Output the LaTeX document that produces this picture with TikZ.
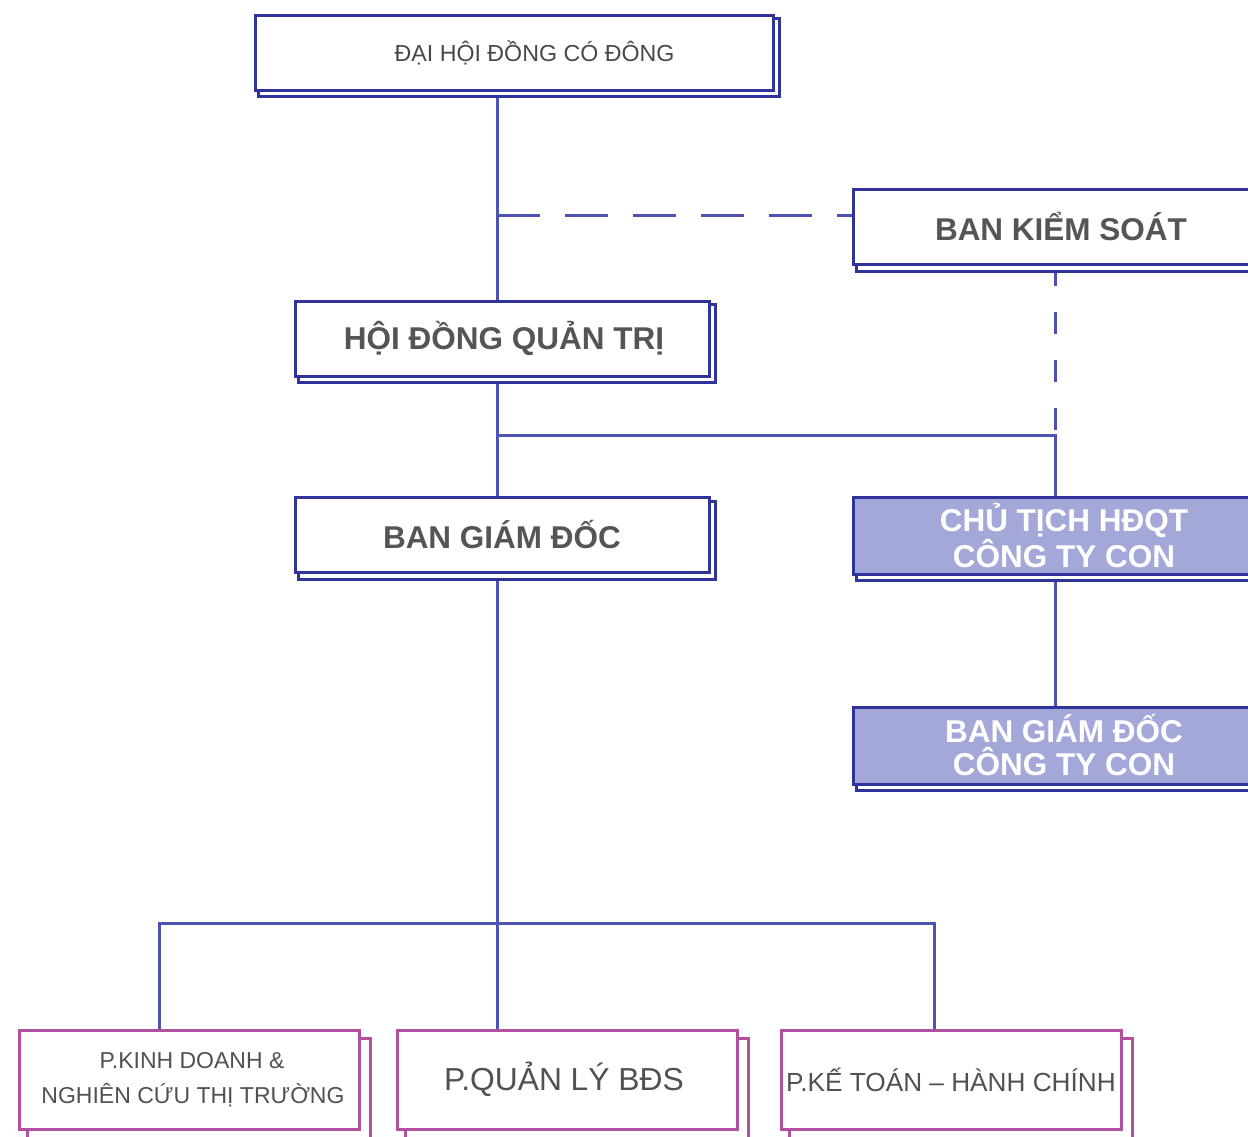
\documentclass[tikz,border=0pt]{standalone}
\usepackage{fontspec}
\setmainfont{Liberation Sans}
\pgfdeclarelayer{lines}
\pgfdeclarelayer{shadows}
\pgfsetlayers{lines,shadows,main}
\definecolor{navy}{HTML}{30349A}
\definecolor{linecol}{HTML}{4E53B2}
\definecolor{subfill}{HTML}{A3A8D9}
\definecolor{magen}{HTML}{B0509E}
\definecolor{txtgray}{HTML}{555555}
\tikzset{
  bluebox/.style={draw=navy, line width=3pt, fill=white, minimum height=75pt,
    inner sep=0pt, text=txtgray, font=\bfseries\fontsize{31.5}{33}\selectfont},
  topbox/.style={bluebox, text=txtgray!85!black, font=\fontsize{23.2}{26}\selectfont},
  subbox/.style={bluebox, fill=subfill, text=white, align=center, minimum height=77pt},
  magbox/.style={draw=magen, line width=3pt, fill=white, minimum width=340pt,
    minimum height=99pt, inner sep=0pt, text=txtgray!95!black, align=center},
  shadowblue/.style={draw=navy, line width=3pt, fill=white},
  shadowmag/.style={draw=magen, line width=3pt, fill=white},
  conn/.style={draw=linecol, line width=3pt},
  dashh/.style={conn, dash pattern=on 43pt off 25pt},
  dashv/.style={conn, dash pattern=on 22pt off 26pt},
}
\newcommand{\boxshadow}[3]{%
  \draw[#3] ([shift={(#2,#2)}]#1.south west) rectangle ([shift={(#2,#2)}]#1.north east);}
\begin{document}
\begin{tikzpicture}[x=1pt,y=-1pt]
\useasboundingbox (0,0) rectangle (1248,1136);
\clip (0,0) rectangle (1248,1136);

% nodes
\node[topbox, minimum width=518pt] (dh) at (514,52.5) {\hspace*{41pt}ĐẠI HỘI ĐỒNG CÓ ĐÔNG};
\node[bluebox, minimum width=416pt] (bks) at (1061,227) {\raisebox{1.5pt}{BAN KIỂM SOÁT}};
\node[bluebox, minimum width=414pt] (hdqt) at (502,338.5) {\hspace*{4pt}HỘI ĐỒNG QUẢN TRỊ};
\node[bluebox, minimum width=414pt] (bgd) at (502,535) {BAN GIÁM ĐỐC};
\node[subbox, minimum width=422pt] (ct) at (1064,535.5) {CHỦ TỊCH HĐQT\\CÔNG TY CON};
\node[subbox, minimum width=422pt] (bgdc) at (1064,745.5) {BAN GIÁM ĐỐC\\CÔNG TY CON};
\node[magbox, font=\fontsize{23}{35}\selectfont] (p1) at (189,1079.5) {\hspace*{6pt}P.KINH DOANH \&\\\hspace*{8pt}NGHIÊN CỨU THỊ TRƯỜNG};
\node[magbox, font=\fontsize{31.8}{34}\selectfont] (p2) at (567,1079.5) {P.QUẢN LÝ BĐS\hspace*{6pt}};
\node[magbox, font=\fontsize{26.2}{30}\selectfont] (p3) at (951,1079.5) {P.KẾ TOÁN – HÀNH CHÍNH};

% shadows
\begin{pgfonlayer}{shadows}
  \boxshadow{dh}{5}{shadowblue}
  \boxshadow{bks}{5}{shadowblue}
  \boxshadow{hdqt}{5}{shadowblue}
  \boxshadow{bgd}{5}{shadowblue}
  \boxshadow{ct}{5}{shadowblue}
  \boxshadow{bgdc}{5}{shadowblue}
  \boxshadow{p1}{10}{shadowmag}
  \boxshadow{p2}{10}{shadowmag}
  \boxshadow{p3}{10}{shadowmag}
\end{pgfonlayer}

% connector coordinates
\coordinate (mx) at (497,0);
\coordinate (dk) at (497,215);
\coordinate (rx) at (1055,435);
\coordinate (b1) at (159,923);
\coordinate (b3) at (934,923);

\begin{pgfonlayer}{lines}
  \draw[conn] (dh.south -| mx) -- (p2.north -| mx);
  \draw[dashh] (dk) -- (dk -| bks.west);
  \draw[dashv] ([yshift=2pt]bks.south -| rx) -- (rx);
  \draw[conn] (rx -| mx) -- (rx) -- (ct.north -| rx);
  \draw[conn] (ct.south -| rx) -- (bgdc.north -| rx);
  \draw[conn] (b1 |- p1.north) -- (b1) -- (b3) -- (b3 |- p3.north);
\end{pgfonlayer}
\end{tikzpicture}
\end{document}
